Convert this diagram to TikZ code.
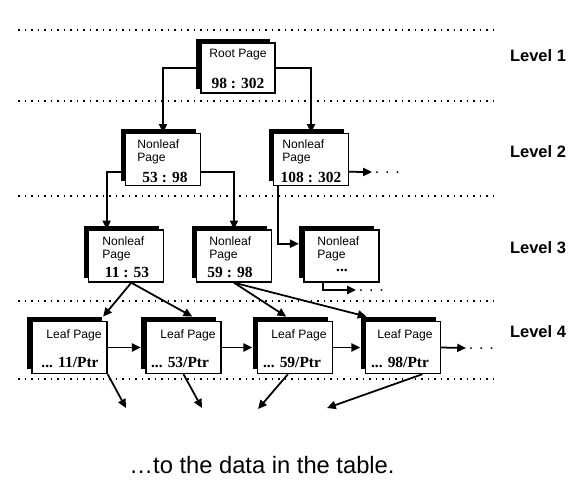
\documentclass[tikz,border=0pt]{standalone}
\usepackage{fontspec}
\setmainfont{Liberation Serif}
\setsansfont{Liberation Sans}
\usetikzlibrary{arrows.meta,shadows,positioning}

\begin{document}
\begin{tikzpicture}[x=0.02cm,y=-0.02cm,
		pagebox/.style={rectangle,draw=black,line width=.8pt,fill=white,inner sep=0pt,minimum width=1.5cm,minimum height=1.04cm,
			general shadow={fill=black,shadow xshift=-2.6pt,shadow yshift=2.4pt}},
		hdr/.style={inner sep=0pt,align=left,font=\sffamily\fontsize{6.9}{7.5}\selectfont},
		num/.style={inner sep=0pt,font=\bfseries\fontsize{8.8}{10}\selectfont},
		lvl/.style={inner sep=0pt,font=\sffamily\bfseries\fontsize{9.4}{11}\selectfont},
		more/.style={anchor=west,inner sep=1.5pt,text height=1.6pt,text depth=0pt,font=\sffamily\fontsize{9}{10}\selectfont},
		conn/.style={line width=1pt,-{Triangle[length=5pt,width=4.6pt]}},
		sepline/.style={line width=1.1pt,dash pattern=on 1.1pt off 2.6pt}]
	\useasboundingbox (0,0) rectangle (575,485);

	% level separators
	\foreach \y in {30,101,196,301,379}
		\draw[sepline] (18,\y) -- (495,\y);

	\node[lvl] (lev1) at (538,56) {Level 1};
	\node[lvl] (lev2) at (538,152) {Level 2};
	\node[lvl] (lev3) at (538,248) {Level 3};
	\node[lvl] (lev4) at (538,332) {Level 4};

	% pages
	\node[pagebox,minimum width=1.48cm,minimum height=1cm] (root) at (238,68) {};
	\node[pagebox] (n2a) at (163,159.5) {};
	\node[pagebox] (n2b) at (311,159.5) {};
	\node[pagebox] (n3a) at (126,256) {};
	\node[pagebox] (n3b) at (234,256) {};
	\node[pagebox] (n3c) at (341.5,256) {};
	\node[pagebox] (l1) at (69.5,347.5) {};
	\node[pagebox] (l2) at (183.5,347.5) {};
	\node[pagebox] (l3) at (295,347.5) {};
	\node[pagebox] (l4) at (403,347.5) {};

	% page texts
	\node[hdr] (root-hdr) at (238,55) {Root Page};
	\node[num] (root-num) at (238,83) {98 : 302};
	\node[hdr,anchor=west] (n2a-hdr) at (137,152) {Nonleaf\\Page};
	\node[num] (n2a-num) at (165,177) {53 : 98};
	\node[hdr,anchor=west] (n2b-hdr) at (282,152) {Nonleaf\\Page};
	\node[num] (n2b-num) at (311,177) {108 : 302};
	\node[hdr,anchor=west] (n3a-hdr) at (102,249) {Nonleaf\\Page};
	\node[num] (n3a-num) at (127,272) {11 : 53};
	\node[hdr,anchor=west] (n3b-hdr) at (209,249) {Nonleaf\\Page};
	\node[num] (n3b-num) at (230,272) {59 : 98};
	\node[hdr,anchor=west] (n3c-hdr) at (317,249) {Nonleaf\\Page};
	\node[num] (n3c-num) at (342,270) {...};
	\node[hdr] (l1-hdr) at (74,335) {Leaf Page};
	\node[num] (l1-num) at (70,362) {... 11/Ptr};
	\node[hdr] (l2-hdr) at (188,335) {Leaf Page};
	\node[num] (l2-num) at (180,362) {... 53/Ptr};
	\node[hdr] (l3-hdr) at (299,335) {Leaf Page};
	\node[num] (l3-num) at (292,362) {... 59/Ptr};
	\node[hdr] (l4-hdr) at (405,335) {Leaf Page};
	\node[num] (l4-num) at (400,362) {... 98/Ptr};

	\node[more] (dots2) at (372,172) {. . .};
	\node[more] (dots3) at (356,290) {. . .};
	\node[more] (dots4) at (466,348) {. . .};

	% links between levels
	\draw[conn] (root.west) -| (n2a.north);
	\draw[conn] (root.east) -| (n2b.north);
	\draw[conn] ([yshift=-7pt]n2a.west) -| ([xshift=-11pt]n3a.north);
	\draw[conn] ([yshift=-7pt]n2a.east) -| (n3b.north);
	\draw[conn] ([yshift=-7pt]n2b.east) -- (dots2.west);
	\draw[conn] ([xshift=2.8pt]n2b.south west) |- ([xshift=-2.6pt,yshift=7pt]n3c.west);
	\draw[conn] ([xshift=11pt]n3c.south west) |- (dots3.west);
	\draw[conn] ([xshift=3pt]n3a.south) -- ([xshift=-2.6pt,yshift=2.4pt]l1.north east);
	\draw[conn] ([xshift=3pt]n3a.south) -- ([xshift=5pt,yshift=2.4pt]l2.north);
	\draw[conn] (n3b.south) -- ([xshift=-5pt,yshift=2.4pt]l3.north);
	\draw[conn] (n3b.south) -- ([xshift=1pt,yshift=2.4pt]l4.north west);

	% leaf chain
	\draw[conn] (l1.east) -- ([xshift=-2.6pt]l2.west);
	\draw[conn] (l2.east) -- ([xshift=-2.6pt]l3.west);
	\draw[conn] (l3.east) -- ([xshift=-2.6pt]l4.west);
	\draw[conn] (l4.east) -- (dots4.west);

	% pointers to the rows
	\coordinate (d1) at (126,408);
	\coordinate (d2) at (202,408);
	\coordinate (d3) at (258,409);
	\coordinate (d4) at (327,408);
	\draw[conn] (l1.south east) -- (d1);
	\draw[conn] (l2.south) -- (d2);
	\draw[conn] ([xshift=-4pt]l3.south) -- (d3);
	\draw[conn] ([xshift=11pt]l4.south) -- (d4);

	\node[inner sep=0pt,font=\sffamily\fontsize{13.5}{16}\selectfont] (caption) at (262,465) {…to the data in the table.};
\end{tikzpicture}
\end{document}
